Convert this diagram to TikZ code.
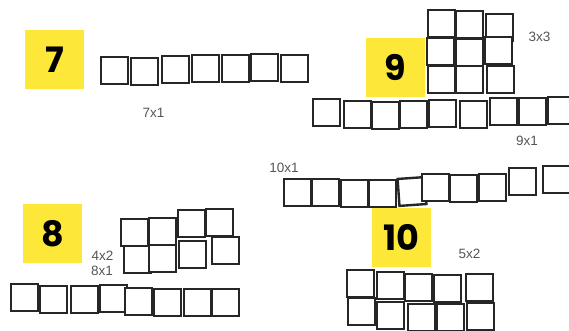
\documentclass[tikz,border=0pt]{standalone}
\usepackage{fontspec}
\setmainfont{Liberation Sans}
\newfontfamily\numfont{Poppins}[BoldFont=* Bold]
\definecolor{tileyellow}{HTML}{FDE83A}
\definecolor{sqline}{HTML}{262626}
\definecolor{labgray}{HTML}{555555}
\begin{document}
\begin{tikzpicture}[x=1pt,y=-1pt,
  sq/.style={draw=sqline,fill=white,line width=2.4pt,minimum size=27pt,inner sep=0pt},
  numbox/.style={fill=tileyellow,minimum size=59pt,inner sep=0pt,font=\numfont\bfseries\fontsize{35}{40}\selectfont,text=black},
  lab/.style={text=labgray,font=\fontsize{13.5}{15}\selectfont,inner sep=0pt}]
\useasboundingbox (0,0) rectangle (569,331);
\clip (0,0) rectangle (569,331);
% number boxes
\node[numbox] (n7) at (54.5,59.5) {7};
\node[numbox] (n9) at (395.5,67.5) {9};
\node[numbox] (n8) at (52.5,233.5) {8};
\node[numbox] (n10) at (401.5,237.5) {10};
% 7x1
\node[sq] (a1) at (114.5,70.5) {};
\node[sq] (a2) at (144.5,71.5) {};
\node[sq] (a3) at (175.5,69.5) {};
\node[sq] (a4) at (205.5,68.5) {};
\node[sq] (a5) at (235.5,68.5) {};
\node[sq] (a6) at (264.5,67.5) {};
\node[sq] (a7) at (294.5,68.5) {};
\node[lab] (l71) at (153.5,113) {7x1};
% 3x3
\node[sq] (c11) at (441.5,23.5) {};
\node[sq] (c12) at (469.5,24.5) {};
\node[sq] (c13) at (499.5,27.5) {};
\node[sq] (c21) at (440.5,51.5) {};
\node[sq] (c22) at (469.5,52.5) {};
\node[sq] (c23) at (498.5,50.5) {};
\node[sq] (c31) at (441.5,79.5) {};
\node[sq] (c32) at (469.5,79.5) {};
\node[sq] (c33) at (500.5,79.5) {};
\node[lab] (l33) at (539.5,36.5) {3x3};
% 9x1
\node[sq] (b1) at (326.5,112.5) {};
\node[sq] (b2) at (357.5,114.5) {};
\node[sq] (b3) at (385.5,115.5) {};
\node[sq] (b4) at (413.5,114.5) {};
\node[sq] (b5) at (442.5,113.5) {};
\node[sq] (b6) at (473.5,114.5) {};
\node[sq] (b7) at (503.5,111.5) {};
\node[sq] (b8) at (532.5,111.5) {};
\node[sq] (b9) at (561.5,110.5) {};
\node[lab] (l91) at (527,141) {9x1};
% 10x1
\node[sq] (f1) at (297.5,192.5) {};
\node[sq] (f2) at (325.5,192.5) {};
\node[sq] (f3) at (354.5,193.5) {};
\node[sq] (f4) at (382.5,193.5) {};
\node[sq,rotate=4] (f5) at (412,191.5) {};
\node[sq] (f6) at (435.5,187.5) {};
\node[sq] (f7) at (463.5,188.5) {};
\node[sq] (f8) at (492.5,187.5) {};
\node[sq] (f9) at (522.5,181.5) {};
\node[sq] (f10) at (556.5,179.5) {};
\node[lab] (l101) at (284,168) {10x1};
% 4x2
\node[sq] (d11) at (134.5,232.5) {};
\node[sq] (d12) at (162.5,231.5) {};
\node[sq] (d13) at (191.5,223.5) {};
\node[sq] (d14) at (219.5,222.5) {};
\node[sq] (d21) at (137.5,259.5) {};
\node[sq] (d22) at (162.5,258.5) {};
\node[sq] (d23) at (192.5,254.5) {};
\node[sq] (d24) at (225.5,250.5) {};
\node[lab] (l42) at (102.5,256) {4x2};
\node[lab] (l81) at (102,271) {8x1};
% 8x1
\node[sq] (e1) at (24.5,297.5) {};
\node[sq] (e2) at (53.5,299.5) {};
\node[sq] (e3) at (84.5,299.5) {};
\node[sq] (e4) at (113.5,298.5) {};
\node[sq] (e5) at (138.5,301.5) {};
\node[sq] (e6) at (167.5,302.5) {};
\node[sq] (e7) at (197.5,302.5) {};
\node[sq] (e8) at (225.5,302.5) {};
% 5x2
\node[sq] (g11) at (360.5,283.5) {};
\node[sq] (g12) at (390.5,285.5) {};
\node[sq] (g13) at (418.5,287.5) {};
\node[sq] (g14) at (447.5,288.5) {};
\node[sq] (g15) at (479.5,287.5) {};
\node[sq] (g21) at (361.5,311.5) {};
\node[sq] (g22) at (390.5,315.5) {};
\node[sq] (g23) at (421.5,317.5) {};
\node[sq] (g24) at (450.5,317.5) {};
\node[sq] (g25) at (480.5,316.5) {};
\node[lab] (l52) at (469.5,253.5) {5x2};
\end{tikzpicture}
\end{document}
